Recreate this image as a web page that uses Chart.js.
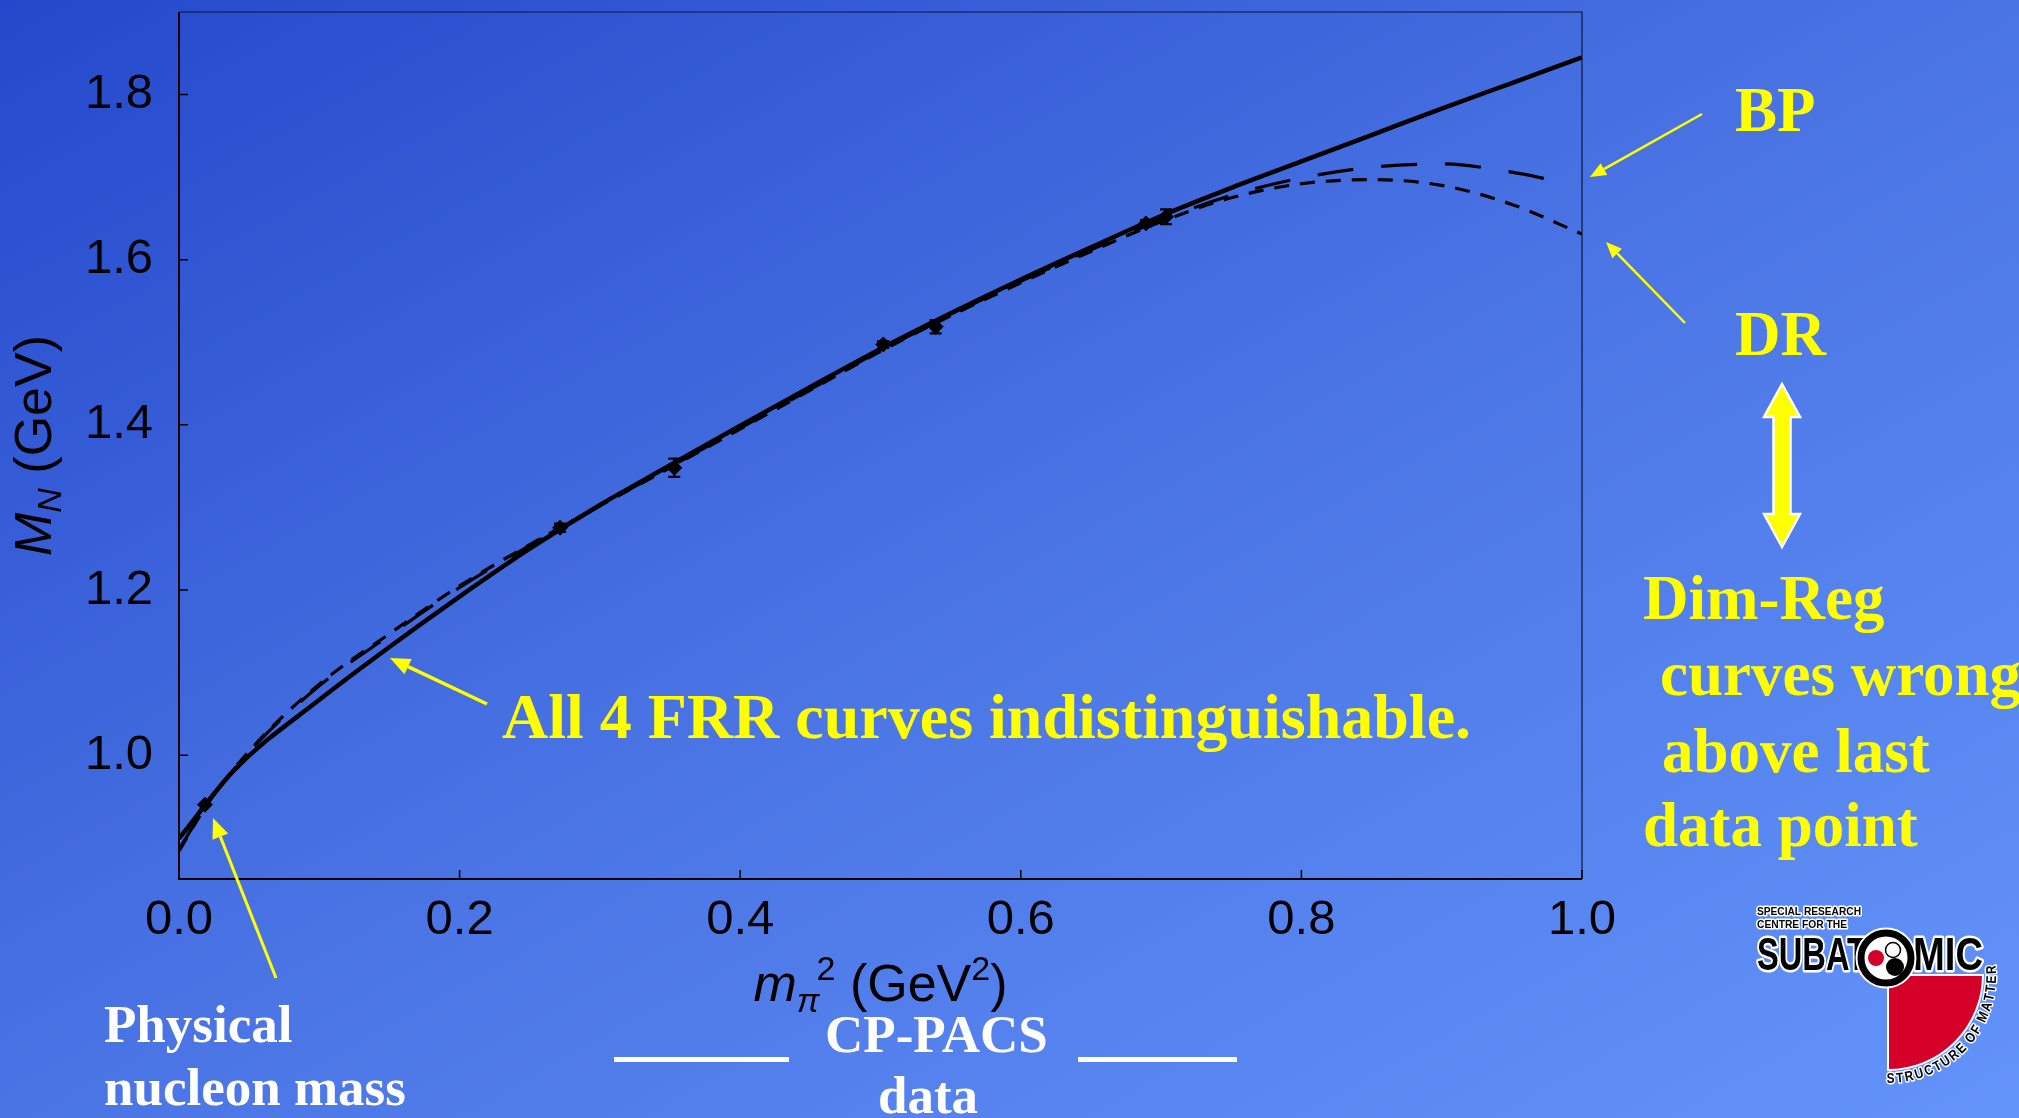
<!DOCTYPE html>
<html>
<head>
<meta charset="utf-8">
<script src="https://cdn.jsdelivr.net/npm/chart.js@4.4.1/dist/chart.umd.min.js"></script>
<style>
  html, body { margin: 0; padding: 0; width: 2019px; height: 1118px; overflow: hidden;
    background: linear-gradient(to bottom right, #2448cb 0%, #4a74e4 50%, #6394fa 100%); }
  #c { position: absolute; left: 0; top: 0; }
</style>
</head>
<body>
<canvas id="c" width="2019" height="1118"></canvas>
<script>
// Axis ticks
const xTicks = [0.0, 0.2, 0.4, 0.6, 0.8, 1.0];
const yTicks = [1.0, 1.2, 1.4, 1.6, 1.8];

// CP-PACS lattice nucleon masses (first point: physical nucleon mass)
const latticeX   = [0.0185, 0.2716, 0.353, 0.502, 0.5393, 0.6892, 0.7035];
const latticeY   = [0.940, 1.2754, 1.348, 1.4974, 1.5188, 1.644, 1.652];
const latticeErr = [0.000, 0.005, 0.011, 0.004, 0.008, 0.004, 0.009];

// FRR chiral extrapolation (all four regulators overlap)
const frrX = [0, 0.04, 0.1, 0.15, 0.2, 0.25, 0.3, 0.35, 0.4, 0.45, 0.5, 0.55, 0.6, 0.65, 0.7, 0.75, 0.8, 0.85, 0.9, 0.95, 1.0];
const frrY = [0.899, 0.983, 1.067, 1.131, 1.192, 1.250, 1.303, 1.351, 1.399, 1.446, 1.492, 1.535, 1.576, 1.615, 1.653, 1.687, 1.719, 1.751, 1.783, 1.814, 1.845];

// Dimensional-regularisation fits
const bpX = [0, 0.02, 0.05, 0.1, 0.15, 0.2, 0.25, 0.3, 0.35, 0.4, 0.45, 0.5, 0.55, 0.6, 0.65, 0.7, 0.75, 0.8, 0.85, 0.9, 0.95, 0.98];
const bpY = [0.886, 0.940, 1.004, 1.084, 1.145, 1.203, 1.254, 1.302, 1.349, 1.396, 1.443, 1.490, 1.533, 1.574, 1.612, 1.648, 1.678, 1.699, 1.712, 1.716, 1.706, 1.696];
const drX = [0, 0.02, 0.05, 0.1, 0.15, 0.2, 0.25, 0.3, 0.35, 0.4, 0.45, 0.5, 0.55, 0.6, 0.65, 0.7, 0.75, 0.8, 0.85, 0.9, 0.95, 1.0];
const drY = [0.884, 0.940, 1.005, 1.086, 1.147, 1.205, 1.255, 1.302, 1.348, 1.395, 1.442, 1.489, 1.532, 1.572, 1.610, 1.646, 1.675, 1.692, 1.697, 1.690, 1.667, 1.631];

const toPts = (xs, ys) => xs.map((x, i) => ({ x: x, y: ys[i] }));

const YELLOW = '#ffff00';
const SERIF = '"Liberation Serif", "Times New Roman", serif';
const SANS = '"Liberation Sans", Arial, sans-serif';

function arrow(ctx, x1, y1, x2, y2, w, head) {
  const a = Math.atan2(y2 - y1, x2 - x1);
  const bx = x2 - head * Math.cos(a), by = y2 - head * Math.sin(a);
  ctx.save();
  ctx.strokeStyle = YELLOW; ctx.fillStyle = YELLOW; ctx.lineWidth = w;
  ctx.beginPath(); ctx.moveTo(x1, y1); ctx.lineTo(bx, by); ctx.stroke();
  const hw = head * 0.42;
  ctx.beginPath();
  ctx.moveTo(x2, y2);
  ctx.lineTo(bx + hw * Math.sin(a), by - hw * Math.cos(a));
  ctx.lineTo(bx - hw * Math.sin(a), by + hw * Math.cos(a));
  ctx.closePath(); ctx.fill();
  ctx.restore();
}

// pieces: [text, font, baseline shift, extra advance]
function richText(ctx, pieces, cx, base) {
  let total = 0;
  const widths = pieces.map(p => { ctx.font = p[1]; const w = ctx.measureText(p[0]).width + (p[3] || 0); total += w; return w; });
  let x = cx - total / 2;
  pieces.forEach((p, i) => {
    ctx.font = p[1];
    ctx.fillText(p[0], x, base + p[2]);
    x += widths[i];
  });
}

function fitText(ctx, text, x, y, font, width, fill, halo) {
  ctx.save();
  ctx.font = font;
  const w = ctx.measureText(text).width;
  ctx.translate(x, y);
  ctx.scale(width / w, 1);
  if (halo) { ctx.strokeStyle = '#fff'; ctx.lineWidth = halo; ctx.lineJoin = 'round'; ctx.strokeText(text, 0, 0); }
  ctx.fillStyle = fill;
  ctx.fillText(text, 0, 0);
  ctx.restore();
}

function drawLogo(ctx) {
  ctx.save();
  ctx.textBaseline = 'alphabetic';
  // red quarter disc
  const cx = 1888, cy = 975;
  ctx.beginPath(); ctx.moveTo(cx, cy); ctx.arc(cx, cy, 95, 0, Math.PI / 2); ctx.closePath();
  ctx.fillStyle = '#d4002a'; ctx.fill();
  ctx.strokeStyle = '#fff'; ctx.lineWidth = 2; ctx.stroke();

  fitText(ctx, 'SPECIAL RESEARCH', 1757, 915, 'bold 10px ' + SANS, 104, '#000', 3);
  fitText(ctx, 'CENTRE FOR THE', 1757, 928, 'bold 10px ' + SANS, 90, '#000', 3);
  fitText(ctx, 'SUBAT', 1757, 970, 'bold 47px ' + SANS, 110, '#000', 5);
  fitText(ctx, 'MIC', 1913, 970, 'bold 47px ' + SANS, 70, '#000', 5);

  // atom ring
  const ox = 1886, oy = 958;
  ctx.beginPath(); ctx.arc(ox, oy, 25, 0, Math.PI * 2);
  ctx.fillStyle = '#fff'; ctx.fill();
  ctx.lineWidth = 11; ctx.strokeStyle = '#fff'; ctx.stroke();
  ctx.lineWidth = 7; ctx.strokeStyle = '#000'; ctx.stroke();
  ctx.beginPath(); ctx.arc(1876, 958, 8, 0, Math.PI * 2); ctx.fillStyle = '#d4002a'; ctx.fill();
  ctx.beginPath(); ctx.arc(1893, 950, 7.5, 0, Math.PI * 2); ctx.fillStyle = '#fff'; ctx.fill();
  ctx.lineWidth = 1.5; ctx.strokeStyle = '#000'; ctx.stroke();
  ctx.beginPath(); ctx.arc(1895, 967, 9, 0, Math.PI * 2); ctx.fillStyle = '#000'; ctx.fill();

  // curved caption round the quarter disc
  const txt = 'STRUCTURE OF MATTER';
  ctx.font = 'bold 14px ' + SANS;
  const ws = [...txt].map(ch => ctx.measureText(ch).width);
  const tot = ws.reduce((a, b) => a + b, 0);
  const r = 108, a0 = Math.PI / 2 + 0.02, a1 = -0.1;
  let acc = 0;
  [...txt].forEach((ch, i) => {
    const th = a0 - (a0 - a1) * (acc + ws[i] / 2) / tot;
    acc += ws[i];
    ctx.save();
    ctx.translate(cx + r * Math.cos(th), cy + r * Math.sin(th));
    ctx.rotate(th - Math.PI / 2);
    ctx.scale(0.85, 1);
    ctx.textAlign = 'center';
    ctx.strokeStyle = '#fff'; ctx.lineWidth = 3; ctx.lineJoin = 'round';
    ctx.strokeText(ch, 0, 0);
    ctx.fillStyle = '#000';
    ctx.fillText(ch, 0, 0);
    ctx.restore();
  });
  ctx.restore();
}

const overlay = {
  id: 'overlay',
  afterDatasetsDraw(chart) {
    const ctx = chart.ctx, xs = chart.scales.x, ys = chart.scales.y;
    // error bars
    ctx.save();
    ctx.strokeStyle = '#000'; ctx.lineWidth = 2.2;
    latticeX.forEach((x, i) => {
      if (!latticeErr[i]) return;
      const px = xs.getPixelForValue(x);
      const p1 = ys.getPixelForValue(latticeY[i] - latticeErr[i]);
      const p2 = ys.getPixelForValue(latticeY[i] + latticeErr[i]);
      ctx.beginPath();
      ctx.moveTo(px, p1); ctx.lineTo(px, p2);
      ctx.moveTo(px - 6, p1); ctx.lineTo(px + 6, p1);
      ctx.moveTo(px - 6, p2); ctx.lineTo(px + 6, p2);
      ctx.stroke();
    });
    ctx.restore();
  },
  afterDraw(chart) {
    const ctx = chart.ctx, a = chart.chartArea, xs = chart.scales.x, ys = chart.scales.y;
    ctx.save();
    // frame
    ctx.strokeStyle = '#0c1638';
    ctx.lineWidth = 1.2;
    ctx.beginPath();
    ctx.moveTo(a.left, a.top); ctx.lineTo(a.right, a.top); ctx.lineTo(a.right, a.bottom);
    ctx.stroke();
    ctx.lineWidth = 2; ctx.strokeStyle = '#000';
    ctx.beginPath();
    ctx.moveTo(a.left, a.top); ctx.lineTo(a.left, a.bottom); ctx.lineTo(a.right, a.bottom);
    ctx.stroke();
    // inward tick marks
    ctx.lineWidth = 1.5;
    ctx.beginPath();
    yTicks.forEach(v => { const p = ys.getPixelForValue(v); ctx.moveTo(a.left, p); ctx.lineTo(a.left + 9, p); });
    xTicks.forEach(v => { const p = xs.getPixelForValue(v); ctx.moveTo(p, a.bottom); ctx.lineTo(p, a.bottom - 9); });
    ctx.stroke();

    // axis titles
    ctx.fillStyle = '#000';
    ctx.textBaseline = 'alphabetic';
    ctx.textAlign = 'left';
    richText(ctx, [
      ['m', 'italic 52px ' + SANS, 0],
      ['\u03C0', 'italic 34px ' + SANS, 11, -3],
      ['2', '34px ' + SANS, -21],
      [' (GeV', '52px ' + SANS, 0],
      ['2', '34px ' + SANS, -21],
      [')', '52px ' + SANS, 0]
    ], (a.left + a.right) / 2, 1001);
    ctx.save();
    ctx.translate(51, (a.top + a.bottom) / 2);
    ctx.rotate(-Math.PI / 2);
    richText(ctx, [
      ['M', 'italic 52px ' + SANS, 0],
      ['N', 'italic 34px ' + SANS, 10],
      [' (GeV)', '52px ' + SANS, 0]
    ], 0, 0);
    ctx.restore();

    // annotations
    ctx.fillStyle = YELLOW;
    ctx.font = 'bold 64px ' + SERIF;
    ctx.fillText('All 4 FRR curves indistinguishable.', 502, 738);
    ctx.font = 'bold 63px ' + SERIF;
    ctx.fillText('BP', 1735, 131);
    ctx.fillText('DR', 1735, 355);
    ctx.fillText('Dim-Reg', 1643, 619);
    ctx.fillText('curves wrong', 1660, 695);
    ctx.fillText('above last', 1662, 772);
    ctx.fillText('data point', 1643, 846);

    arrow(ctx, 487, 704, 390, 658, 3.5, 20);
    arrow(ctx, 276, 978, 213, 818, 3, 20);
    arrow(ctx, 1702, 114, 1590, 177, 2.5, 16);
    arrow(ctx, 1685, 323, 1606, 242, 2.5, 16);

    // double-headed arrow
    const dx = 1782, t = 384, b = 547, hw = 18, hh = 33, sw = 8.5;
    ctx.beginPath();
    ctx.moveTo(dx, t); ctx.lineTo(dx + hw, t + hh); ctx.lineTo(dx + sw, t + hh);
    ctx.lineTo(dx + sw, b - hh); ctx.lineTo(dx + hw, b - hh); ctx.lineTo(dx, b);
    ctx.lineTo(dx - hw, b - hh); ctx.lineTo(dx - sw, b - hh); ctx.lineTo(dx - sw, t + hh);
    ctx.lineTo(dx - hw, t + hh); ctx.closePath();
    ctx.fillStyle = YELLOW; ctx.fill();
    ctx.strokeStyle = '#fff'; ctx.lineWidth = 2.5; ctx.lineJoin = 'miter'; ctx.stroke();

    // white captions
    ctx.fillStyle = '#fff';
    ctx.font = 'bold 53px ' + SERIF;
    ctx.fillText('Physical', 104, 1042);
    ctx.fillText('nucleon mass', 104, 1105);
    ctx.fillText('CP-PACS', 825, 1052);
    ctx.textAlign = 'center';
    ctx.fillText('data', 928, 1113);
    ctx.textAlign = 'left';
    ctx.fillRect(614, 1057, 175, 5);
    ctx.fillRect(1078, 1057, 159, 5);

    drawLogo(ctx);
    ctx.restore();
  }
};

new Chart(document.getElementById('c').getContext('2d'), {
  type: 'scatter',
  data: {
    datasets: [
      { label: 'CP-PACS', data: toPts(latticeX, latticeY), showLine: false,
        pointStyle: 'rectRot', pointRadius: 7.5, backgroundColor: '#000', borderColor: '#000', borderWidth: 1 },
      { label: 'FRR', data: toPts(frrX, frrY), showLine: true, borderColor: '#000', borderWidth: 4.5,
        pointRadius: 0, cubicInterpolationMode: 'monotone' },
      { label: 'BP', data: toPts(bpX, bpY), showLine: true, borderColor: '#000', borderWidth: 3.2,
        borderDash: [36, 28], pointRadius: 0, cubicInterpolationMode: 'monotone' },
      { label: 'DR', data: toPts(drX, drY), showLine: true, borderColor: '#000', borderWidth: 3.2,
        borderDash: [15, 11], pointRadius: 0, cubicInterpolationMode: 'monotone' }
    ]
  },
  options: {
    responsive: false,
    animation: false,
    devicePixelRatio: 1,
    layout: { padding: { left: 0, top: 12, right: 437, bottom: 0 }, autoPadding: false },
    plugins: { legend: { display: false }, tooltip: { enabled: false } },
    scales: {
      x: {
        type: 'linear', min: 0, max: 1,
        grid: { display: false, drawTicks: false },
        border: { display: false },
        afterBuildTicks: s => { s.ticks = xTicks.map(v => ({ value: v })); },
        afterFit: s => { s.height = 239; s.paddingLeft = 0; s.paddingRight = 0; },
        ticks: { padding: 12, color: '#000', maxRotation: 0, autoSkip: false,
          font: { family: '"Liberation Sans", Arial, sans-serif', size: 49 },
          callback: v => Number(v).toFixed(1) }
      },
      y: {
        type: 'linear', min: 0.85, max: 1.9,
        grid: { display: false, drawTicks: false },
        border: { display: false },
        afterBuildTicks: s => { s.ticks = yTicks.map(v => ({ value: v })); },
        afterFit: s => { s.width = 179; s.paddingTop = 0; s.paddingBottom = 0; },
        ticks: { padding: 26, color: '#000', autoSkip: false,
          font: { family: '"Liberation Sans", Arial, sans-serif', size: 49 },
          callback: v => Number(v).toFixed(1) }
      }
    }
  },
  plugins: [overlay]
});
</script>
</body>
</html>
